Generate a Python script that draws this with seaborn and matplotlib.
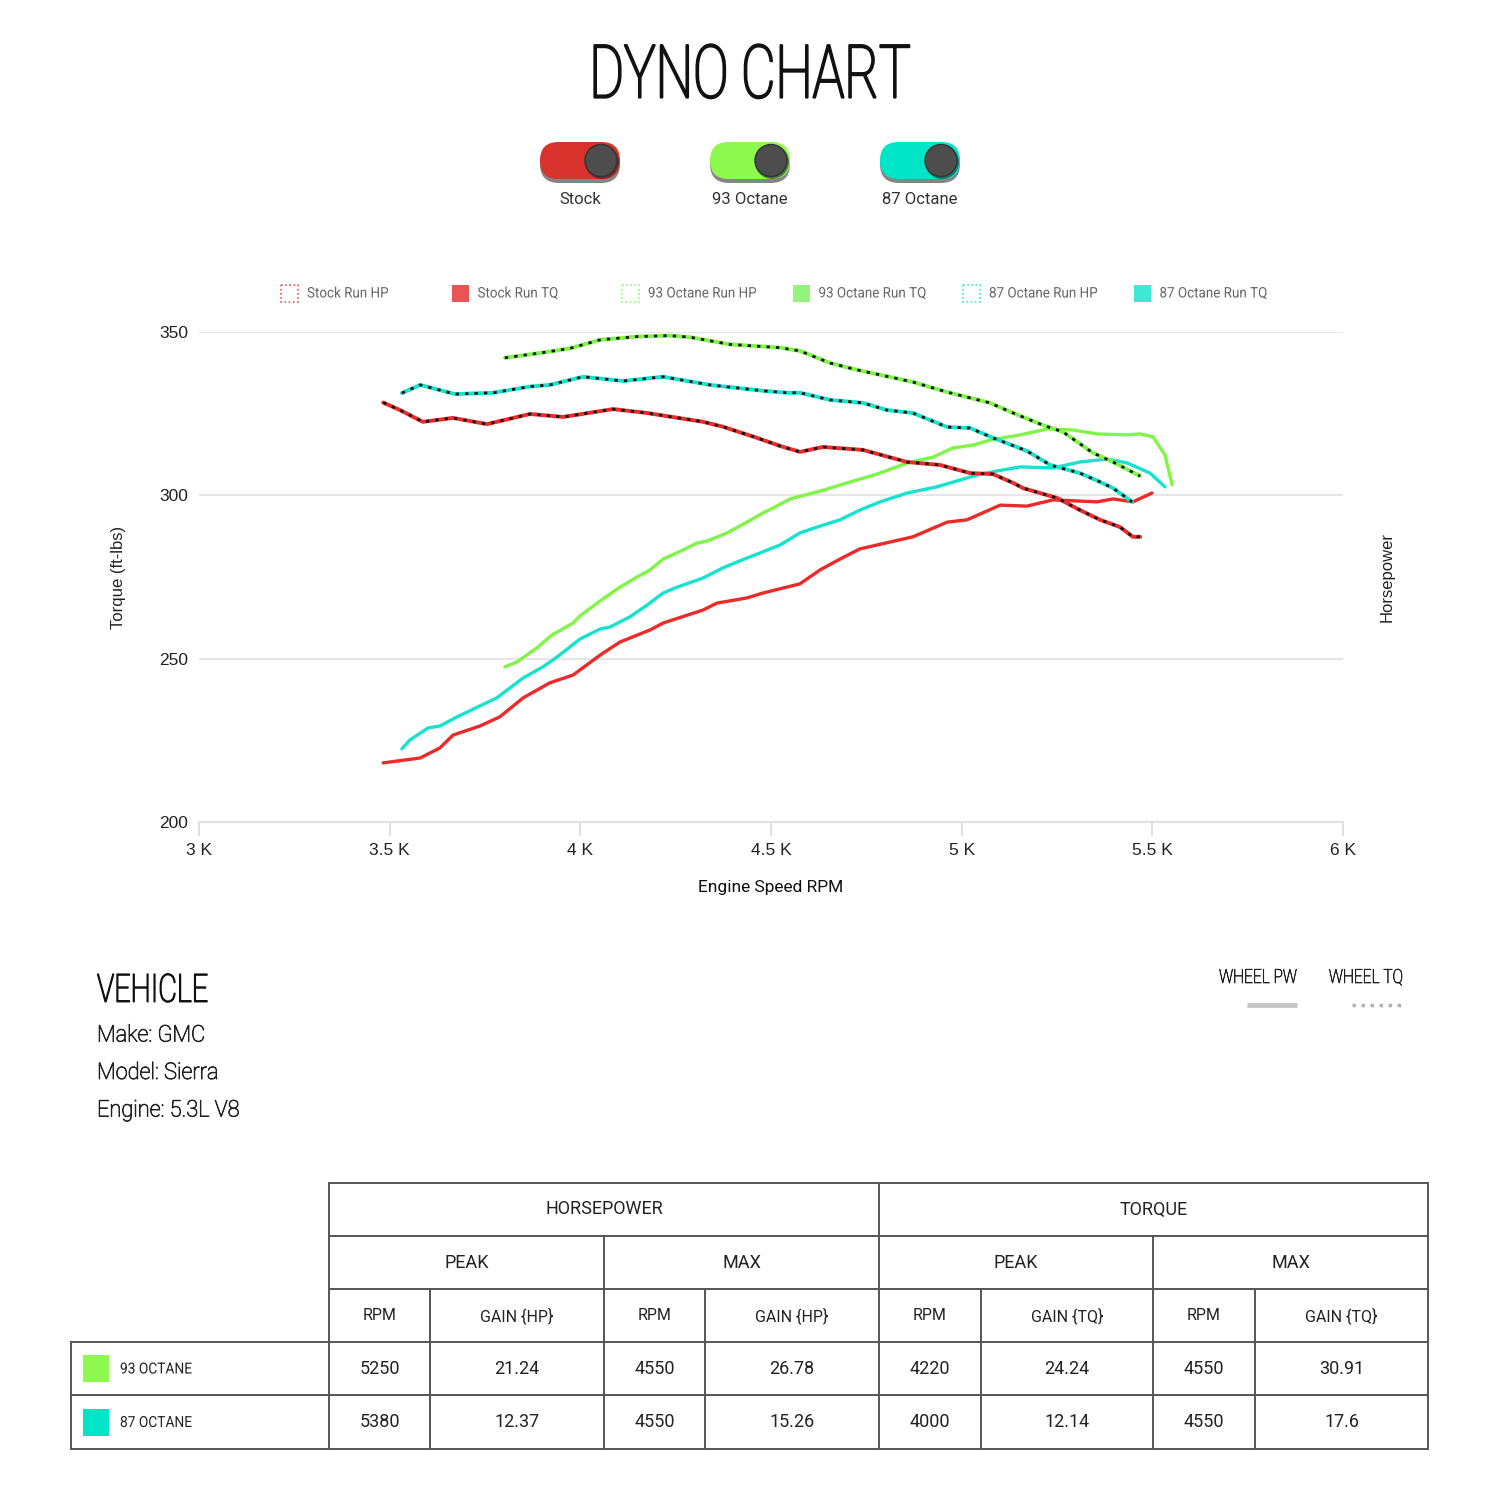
import numpy as np
import pandas as pd
import matplotlib
matplotlib.use('Agg')
import matplotlib.pyplot as plt
import seaborn as sns
from matplotlib.patches import FancyBboxPatch, Circle, Rectangle
from matplotlib.ticker import FuncFormatter
from matplotlib.patheffects import AbstractPathEffect
from matplotlib.transforms import Affine2D

# ---- data ----
stock_hp_rpm = [3483, 3527, 3587, 3666, 3755, 3868, 3955, 4086, 4175, 4322, 4374, 4463,
                4524, 4576, 4636, 4741, 4857, 4943, 5022, 5082, 5135, 5161, 5250, 5310,
                5363, 5415, 5449, 5468]
stock_hp = [328.4, 326.1, 322.5, 323.7, 321.8, 324.9, 324.0, 326.4, 325.2, 322.5, 321.0, 317.6,
            315.1, 313.3, 314.8, 313.9, 310.2, 309.3, 306.8, 306.5, 303.8, 302.2, 299.2, 295.5,
            292.5, 290.3, 287.3, 287.3]

oct93_hp_rpm = [3802, 3902, 3973, 4052, 4149, 4235, 4288, 4393, 4524, 4576, 4655, 4726,
                4872, 4962, 5074, 5135, 5213, 5266, 5344, 5397, 5468]
oct93_hp = [342.1, 343.7, 345.0, 347.6, 348.6, 348.9, 348.4, 346.2, 345.2, 344.2, 340.5, 338.4,
            334.7, 331.6, 328.3, 325.2, 321.5, 319.4, 313.0, 310.2, 305.9]

oct87_hp_rpm = [3532, 3580, 3671, 3771, 3868, 3920, 4007, 4112, 4217, 4340, 4479, 4542,
                4576, 4655, 4741, 4804, 4872, 4962, 5022, 5082, 5171, 5232, 5310, 5363,
                5397, 5447]
oct87_hp = [331.3, 333.8, 331.0, 331.4, 333.3, 333.8, 336.3, 335.0, 336.3, 333.8, 332.0, 331.4,
            331.4, 329.2, 328.3, 326.1, 325.2, 320.9, 320.6, 317.6, 313.6, 309.3, 306.8, 304.1,
            302.2, 298.0]

stock_tq_rpm = [3483, 3580, 3632, 3666, 3737, 3789, 3850, 3920, 3981, 4052, 4104, 4183,
                4217, 4322, 4358, 4437, 4479, 4576, 4629, 4681, 4733, 4872, 4962, 5014,
                5101, 5171, 5240, 5355, 5397, 5449, 5499]
stock_tq = [218.1, 219.6, 222.7, 226.6, 229.4, 232.2, 238.0, 242.6, 245.0, 251.1, 255.1, 258.8,
            260.9, 264.9, 267.0, 268.6, 270.1, 272.9, 277.2, 280.5, 283.6, 287.3, 291.8, 292.5,
            297.0, 296.7, 298.6, 298.0, 298.9, 298.0, 300.7]

oct87_tq_rpm = [3532, 3553, 3601, 3632, 3677, 3729, 3781, 3850, 3902, 3939, 3999, 4052,
                4078, 4130, 4175, 4217, 4254, 4322, 4374, 4411, 4524, 4576, 4629, 4681,
                4733, 4786, 4857, 4935, 4996, 5048, 5153, 5240, 5310, 5381, 5434, 5494, 5533]
oct87_tq = [222.4, 225.1, 228.8, 229.4, 232.2, 235.1, 238.0, 244.1, 247.5, 250.5, 256.0, 259.1,
            259.7, 262.8, 266.4, 270.1, 271.9, 274.7, 277.8, 279.6, 284.8, 288.5, 290.6, 292.5,
            295.5, 298.0, 300.7, 302.6, 304.7, 306.5, 308.7, 308.4, 310.2, 311.1, 309.9, 306.8, 302.6]

oct93_tq_rpm = [3802, 3834, 3886, 3926, 3981, 3999, 4052, 4104, 4149, 4183, 4217, 4270,
                4306, 4332, 4385, 4437, 4479, 4505, 4550, 4629, 4699, 4778, 4857, 4925,
                4977, 5030, 5074, 5153, 5224, 5292, 5355, 5434, 5468, 5502, 5533, 5552]
oct93_tq = [247.5, 249.0, 253.3, 257.3, 260.9, 263.1, 267.7, 271.9, 275.0, 277.2, 280.5, 283.3,
            285.4, 286.0, 288.5, 291.8, 294.6, 296.1, 298.9, 301.3, 303.8, 306.5, 309.9, 311.7,
            314.5, 315.4, 316.9, 318.5, 320.3, 320.0, 318.8, 318.5, 318.8, 317.9, 312.4, 303.2]

x_ticks = [3000, 3500, 4000, 4500, 5000, 5500, 6000]
y_ticks = [200, 250, 300, 350]

toggle_labels = ['Stock', '93 Octane', '87 Octane']
legend_labels = ['Stock Run HP', 'Stock Run TQ', '93 Octane Run HP', '93 Octane Run TQ',
                 '87 Octane Run HP', '87 Octane Run TQ']
vehicle_info = ['Make: GMC', 'Model: Sierra', 'Engine: 5.3L V8']

table_rows = ['93 OCTANE', '87 OCTANE']
hp_peak_rpm = [5250, 5380]
hp_peak_gain = ['21.24', '12.37']
hp_max_rpm = [4550, 4550]
hp_max_gain = ['26.78', '15.26']
tq_peak_rpm = [4220, 4000]
tq_peak_gain = ['24.24', '12.14']
tq_max_rpm = [4550, 4550]
tq_max_gain = ['30.91', '17.6']

RED = '#ec2a2a'
GREEN = '#7ff548'
CYAN = '#14e4cf'
TOGGLE_COLORS = ['#d8322c', '#8ef94e', '#00e5c8']
LEG_COLORS = ['#e85555', '#93f57c', '#3de8d6']

sns.set_theme(style='white')
plt.rcParams['font.family'] = ['Roboto', 'DejaVu Sans']
ARIAL = ['Liberation Sans', 'DejaVu Sans']


class Squeeze(AbstractPathEffect):
    '''narrows text horizontally around its anchor, optionally thickening thin glyphs'''
    def __init__(self, sx, cx, stroke=0.0):
        super().__init__()
        self.sx = sx
        self.cx = cx
        self.stroke = stroke

    def draw_path(self, renderer, gc, tpath, affine, rgbFace=None):
        aff = affine + Affine2D().translate(-self.cx, 0).scale(self.sx, 1).translate(self.cx, 0)
        renderer.draw_path(gc, tpath, aff, rgbFace)
        if self.stroke > 0 and rgbFace is not None:
            gc0 = renderer.new_gc()
            gc0.copy_properties(gc)
            gc0.set_linewidth(self.stroke)
            gc0.set_foreground(rgbFace)
            renderer.draw_path(gc0, tpath, aff, None)
            gc0.restore()


def squeezed(x_px, y_px, s, sx, ha='center', stroke=0.0, **kw):
    # bg axes uses pixel coords, display x equals pixel x at dpi 100
    t = bg.text(x_px, y_px, s, ha=ha, va='center', **kw)
    t.set_path_effects([Squeeze(sx, x_px, stroke)])
    return t


fig = plt.figure(figsize=(15, 15), dpi=100)

# background axes in pixel coordinates for the page decoration
bg = fig.add_axes([0, 0, 1, 1])
bg.set_xlim(0, 1500)
bg.set_ylim(1500, 0)
bg.axis('off')

squeezed(750, 77, 'DYNO CHART', 0.72, stroke=1.6, fontsize=53, color='#111111', fontweight='light')

# toggle switches
for i, (lab, col) in enumerate(zip(toggle_labels, TOGGLE_COLORS)):
    cx = 580 + i * 170
    shadow = FancyBboxPatch((cx - 40, 145), 80, 38, boxstyle='round,pad=0,rounding_size=19',
                            fc='#222222', ec='none', alpha=0.55)
    bg.add_patch(shadow)
    pill = FancyBboxPatch((cx - 40, 142), 80, 37, boxstyle='round,pad=0,rounding_size=18.5',
                          fc=col, ec='none')
    bg.add_patch(pill)
    bg.add_patch(Circle((cx + 22, 162), 17, fc='#2a2a2a', ec='none', alpha=0.6))
    bg.add_patch(Circle((cx + 21, 160.5), 16, fc='#4d4d4d', ec='#333333', lw=1))
    bg.text(cx, 199, lab, ha='center', va='center', fontsize=12, color='#333333')

# series legend
leg_cols = [LEG_COLORS[0], LEG_COLORS[0], LEG_COLORS[1], LEG_COLORS[1], LEG_COLORS[2], LEG_COLORS[2]]
for i, (lab, col) in enumerate(zip(legend_labels, leg_cols)):
    x0 = 281 + i * 170.5
    if i % 2 == 0:
        bg.add_patch(Rectangle((x0, 285), 17, 17, fc='none', ec=col, lw=1.2, ls=(0, (1, 1.5))))
    else:
        bg.add_patch(Rectangle((x0, 285), 17, 17, fc=col, ec='none'))
    squeezed(x0 + 26, 293.5, lab, 0.92, ha='left', fontsize=10.5, color='#666666')

# vehicle block
squeezed(97, 991, 'VEHICLE', 0.74, stroke=1.0, ha='left', fontsize=28, color='#111111',
         fontweight='light')
for j, line in enumerate(vehicle_info):
    squeezed(97, 1035 + j * 37.5, line, 0.95, stroke=0.6, ha='left', fontsize=16.5, color='#222222',
             fontweight='light')

squeezed(1258, 978, 'WHEEL PW', 0.8, stroke=0.5, fontsize=14, color='#222222', fontweight='light')
squeezed(1366, 978, 'WHEEL TQ', 0.8, stroke=0.5, fontsize=14, color='#222222', fontweight='light')
bg.plot([1247, 1297], [1005, 1005], color='#c4c4c4', lw=3.5, solid_capstyle='butt')
bg.plot([1352, 1402], [1005, 1005], color='#b0b0b0', lw=2.5, ls=(0, (1, 1.6)))

# table
lc = '#555555'
cols = [329, 430, 604, 705, 879, 981, 1153, 1255, 1428]
rows_y = [1183, 1236, 1289, 1342, 1395, 1449]
lw_t = 1.4
bg.plot([329, 1428], [1183, 1183], color=lc, lw=lw_t)
bg.plot([329, 1428], [1236, 1236], color=lc, lw=lw_t)
bg.plot([329, 1428], [1289, 1289], color=lc, lw=lw_t)
for yy in rows_y[3:]:
    bg.plot([71, 1428], [yy, yy], color=lc, lw=lw_t)
bg.plot([71, 71], [1342, 1449], color=lc, lw=lw_t)
for xx in [329, 879, 1428]:
    bg.plot([xx, xx], [1183, 1449], color=lc, lw=lw_t)
for xx in [604, 1153]:
    bg.plot([xx, xx], [1236, 1449], color=lc, lw=lw_t)
for xx in [430, 705, 981, 1255]:
    bg.plot([xx, xx], [1289, 1449], color=lc, lw=lw_t)


def mid(a, b):
    return (a + b) / 2


tcol = '#222222'
bg.text(mid(329, 879), mid(1183, 1236), 'HORSEPOWER', ha='center', va='center', fontsize=13, color=tcol)
bg.text(mid(879, 1428), mid(1183, 1236), 'TORQUE', ha='center', va='center', fontsize=13, color=tcol)
for a, b, t in [(329, 604, 'PEAK'), (604, 879, 'MAX'), (879, 1153, 'PEAK'), (1153, 1428, 'MAX')]:
    bg.text(mid(a, b), mid(1236, 1289), t, ha='center', va='center', fontsize=13, color=tcol)
sub_heads = ['RPM', 'GAIN {HP}', 'RPM', 'GAIN {HP}', 'RPM', 'GAIN {TQ}', 'RPM', 'GAIN {TQ}']
for k, t in enumerate(sub_heads):
    bg.text(mid(cols[k], cols[k + 1]), mid(1289, 1342), t, ha='center', va='center',
            fontsize=11.5, color=tcol)

sw_colors = [TOGGLE_COLORS[1], TOGGLE_COLORS[2]]
for r, name in enumerate(table_rows):
    yc = mid(rows_y[3 + r], rows_y[4 + r])
    bg.add_patch(Rectangle((83, yc - 13.5), 26, 27, fc=sw_colors[r], ec='none'))
    squeezed(120, yc + 1, name, 0.9, ha='left', fontsize=11, color=tcol)
    vals = [hp_peak_rpm[r], hp_peak_gain[r], hp_max_rpm[r], hp_max_gain[r],
            tq_peak_rpm[r], tq_peak_gain[r], tq_max_rpm[r], tq_max_gain[r]]
    for k, v in enumerate(vals):
        bg.text(mid(cols[k], cols[k + 1]), yc, str(v), ha='center', va='center',
                fontsize=13, color=tcol)

# ---- chart ----
ax = fig.add_axes([199 / 1500, 1 - 822 / 1500, 1144 / 1500, 490 / 1500])
ax.patch.set_alpha(0)

solid = [(stock_tq_rpm, stock_tq, RED), (oct87_tq_rpm, oct87_tq, CYAN), (oct93_tq_rpm, oct93_tq, GREEN)]
dashed = [(stock_hp_rpm, stock_hp, RED), (oct87_hp_rpm, oct87_hp, CYAN), (oct93_hp_rpm, oct93_hp, GREEN)]

for xs, ys, c in solid:
    df = pd.DataFrame({'rpm': xs, 'val': ys})
    sns.lineplot(data=df, x='rpm', y='val', ax=ax, color=c, lw=2.4, estimator=None)
for xs, ys, c in dashed:
    df = pd.DataFrame({'rpm': xs, 'val': ys})
    sns.lineplot(data=df, x='rpm', y='val', ax=ax, color=c, lw=2.8, estimator=None)
    sns.lineplot(data=df, x='rpm', y='val', ax=ax, color='#111111', lw=2.0,
                 linestyle=(0, (1.2, 2.2)), estimator=None)

ax.set_xlim(3000, 6000)
ax.set_ylim(200, 350)
ax.set_xticks(x_ticks)
ax.set_yticks(y_ticks)
ax.xaxis.set_major_formatter(FuncFormatter(lambda v, p: f'{v / 1000:g} K'))
for t in y_ticks[1:]:
    ax.axhline(t, color='#e6e6e6', lw=1.5, zorder=0)
for s in ['top', 'right', 'left']:
    ax.spines[s].set_visible(False)
ax.spines['bottom'].set_color('#e0e0e0')
ax.spines['bottom'].set_linewidth(1.5)
ax.tick_params(axis='x', which='major', bottom=True, length=10, width=1.5, color='#e0e0e0',
               pad=5, labelsize=12.5, labelcolor='#222222')
ax.tick_params(axis='y', which='major', left=False, pad=2, labelsize=12.5, labelcolor='#222222')
for lab in ax.get_xticklabels() + ax.get_yticklabels():
    lab.set_family(ARIAL)
ax.grid(False)

ax.set_xlabel('Engine Speed RPM', fontsize=12.5, color='#111111', labelpad=16)
ax.set_ylabel('Torque (ft-lbs)', fontsize=12, color='#222222', family=ARIAL, labelpad=24)
fig.text(1387 / 1500, 1 - 577 / 1500, 'Horsepower', rotation=90, ha='center', va='center',
         fontsize=12, color='#222222', family=ARIAL)

fig.savefig('out.png', dpi=100, facecolor='white')
